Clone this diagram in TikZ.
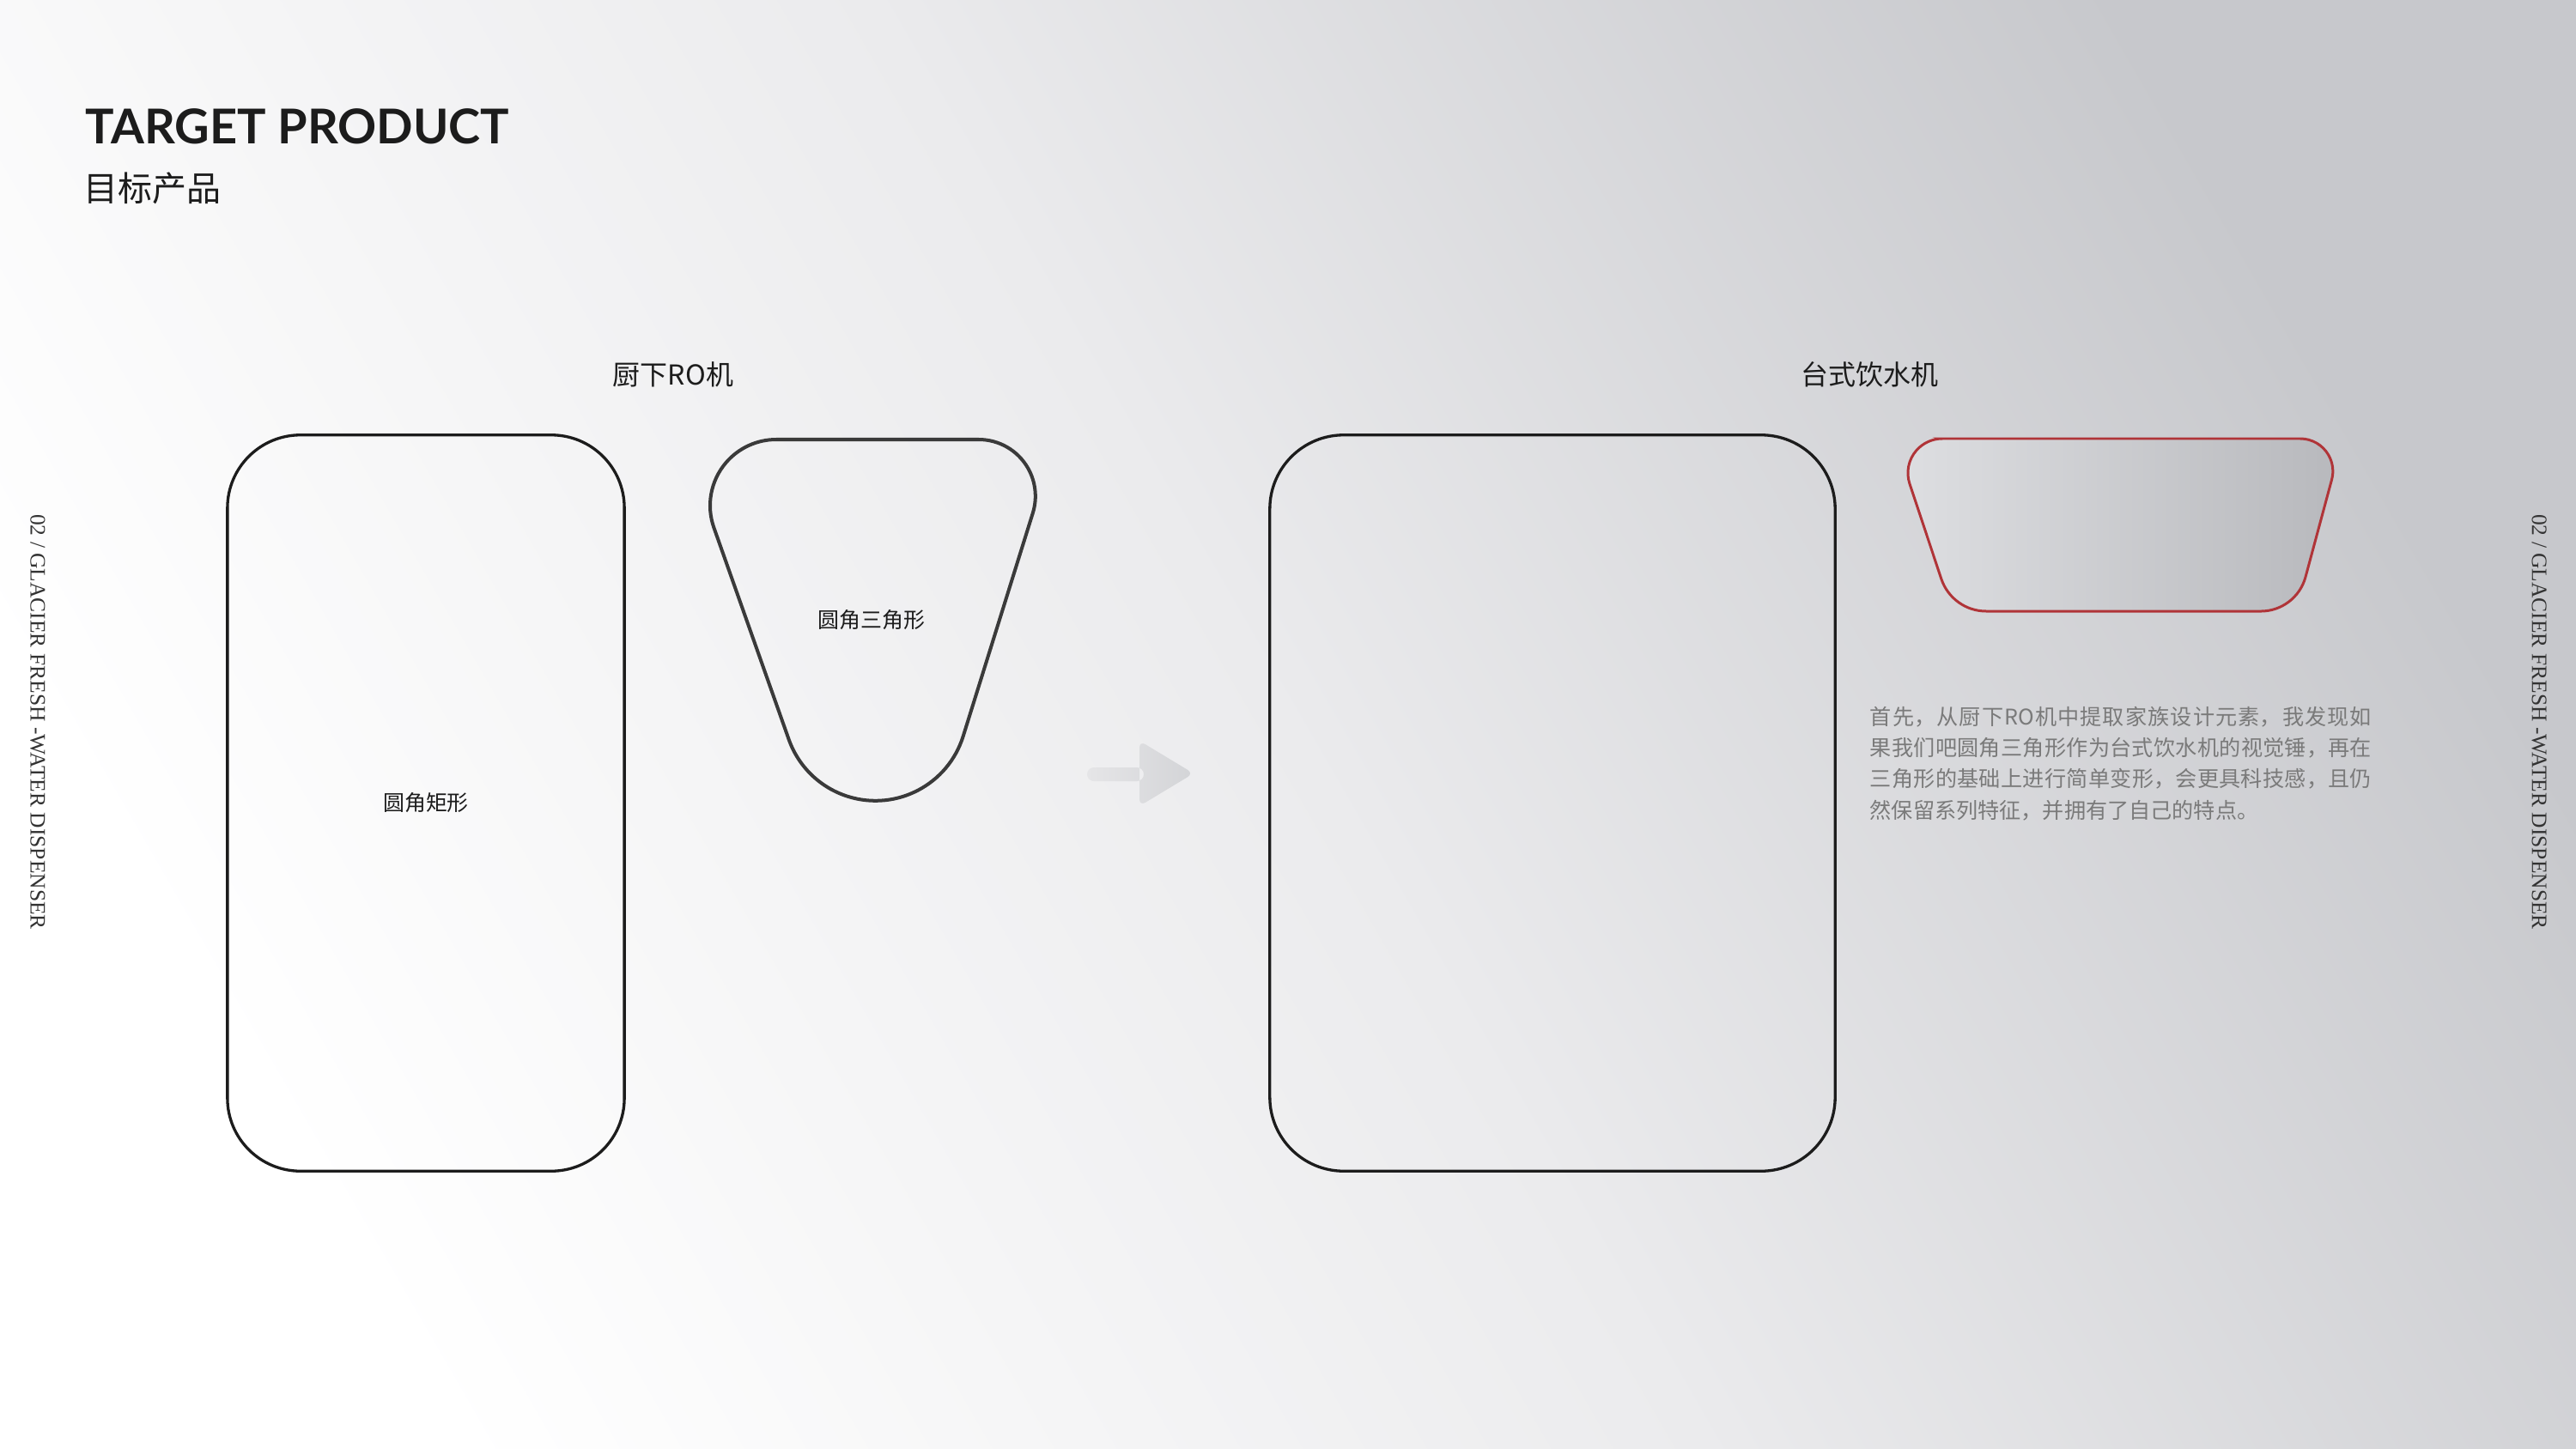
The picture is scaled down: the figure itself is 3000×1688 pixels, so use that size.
\documentclass[tikz,border=0pt]{standalone}
\usepackage{fontspec}
\setmainfont{Liberation Serif}
\newfontfamily\cjk{Noto Sans CJK SC}
\newfontfamily\titlefont{Lato}
\usetikzlibrary{positioning}

\definecolor{inkline}{RGB}{28,28,28}
\definecolor{triline}{RGB}{58,58,58}
\definecolor{redline}{RGB}{176,52,56}
\definecolor{bodygrey}{RGB}{122,122,122}
\definecolor{bgpale}{RGB}{255,255,255}
\definecolor{bgmid}{RGB}{235,235,237}
\definecolor{bgdark}{RGB}{199,200,204}
\definecolor{trapleft}{RGB}{221,222,225}
\definecolor{trapright}{RGB}{184,185,189}
\definecolor{arrowpale}{RGB}{229,229,231}
\definecolor{arrowdark}{RGB}{211,212,215}

\pgfdeclareverticalshading{pagefade}{100bp}{color(0bp)=(bgpale); color(25bp)=(bgpale);
  color(50bp)=(bgmid); color(75bp)=(bgdark); color(100bp)=(bgdark)}

\tikzset{
  heading/.style={font=\cjk\fontsize{9.1}{11}\selectfont, text=inkline, inner sep=0pt},
  shapelabel/.style={font=\cjk\fontsize{7.1}{9}\selectfont, text=inkline, inner sep=0pt},
  outline/.style={draw=inkline, line width=0.94pt},
  sidetext/.style={font=\fontsize{7.25}{9}\selectfont, text=black!80, rotate=-90, inner sep=0pt},
}

\begin{document}
\begin{tikzpicture}[x=0.01cm, y=-0.01cm]

\shade[shading=pagefade, shading angle=-60] (0,0) rectangle (3000,1688);
\useasboundingbox (0,0) rectangle (3000,1688);

\node[anchor=base west, inner sep=0pt, text=inkline,
      font=\titlefont\bfseries\fontsize{15.9}{18}\selectfont] (title) at (99,168) {TARGET PRODUCT};
\node[anchor=west, inner sep=0pt, text=inkline,
      font=\cjk\fontsize{11.38}{13}\selectfont] (subtitle) at (97,219) {目标产品};

\node[sidetext] (sideleft) at (44,841) {02 / GLACIER FRESH -WATER DISPENSER};
\node[sidetext] (sideright) at (2957,841) {02 / GLACIER FRESH -WATER DISPENSER};

\node[heading] (kitchenhead) at (784,436) {厨下RO机};
\node[heading] (deskhead) at (2177,436) {台式饮水机};

\node[outline, rounded corners=0.85cm, minimum width=4.62cm, minimum height=8.57cm, shapelabel]
  (roundrect) at (496,935.5) {圆角矩形};

\draw[draw=triline, line width=1.14pt] (904,512) -- (1139.8,512)
  arc[start angle=-90, end angle=17.3, radius=66] -- (1121.7,857.6)
  arc[start angle=17.3, end angle=160.5, radius=107] -- (831.4,614.7)
  arc[start angle=160.5, end angle=270, radius=77] -- cycle;
\node[shapelabel] (trilabel) at (1015,722) {圆角三角形};

\coordinate (arrowtail) at (1266,902);
\coordinate (arrowtip) at (1390,901);
\shade[left color=arrowpale, right color=arrowdark, rounded corners=0.08cm]
  (arrowtail) ++(0,-8) rectangle (1332,910)
  (1327,863) -- (arrowtip) -- (1327,939) -- cycle;

\node[outline, rounded corners=0.86cm, minimum width=6.58cm, minimum height=8.57cm]
  (deskbox) at (1808,935.5) {};

\shadedraw[left color=trapleft, right color=trapright, draw=redline, line width=0.85pt]
  (2261.9,511) -- (2678.8,511) arc[start angle=-90, end angle=15.1, radius=38]
  -- (2685,672.1) arc[start angle=15.1, end angle=90, radius=54]
  -- (2313,712) arc[start angle=90, end angle=161.5, radius=55]
  -- (2224,563.7) arc[start angle=161.5, end angle=270, radius=40] -- cycle;

\node[anchor=north west, inner sep=0pt, text width=5.84cm, align=justify, text=bodygrey,
      font=\cjk\fontsize{7.15}{10.36}\selectfont] (story) at (2177,822)
  {\parindent=0pt\XeTeXlinebreaklocale "zh"\XeTeXlinebreakskip=0pt plus 1pt
   首先，从厨下RO机中提取家族设计元素，我发现如\linebreak
   果我们吧圆角三角形作为台式饮水机的视觉锤，再在\linebreak
   三角形的基础上进行简单变形，会更具科技感，且仍\linebreak
   然保留系列特征，并拥有了自己的特点。};

\end{tikzpicture}
\end{document}
